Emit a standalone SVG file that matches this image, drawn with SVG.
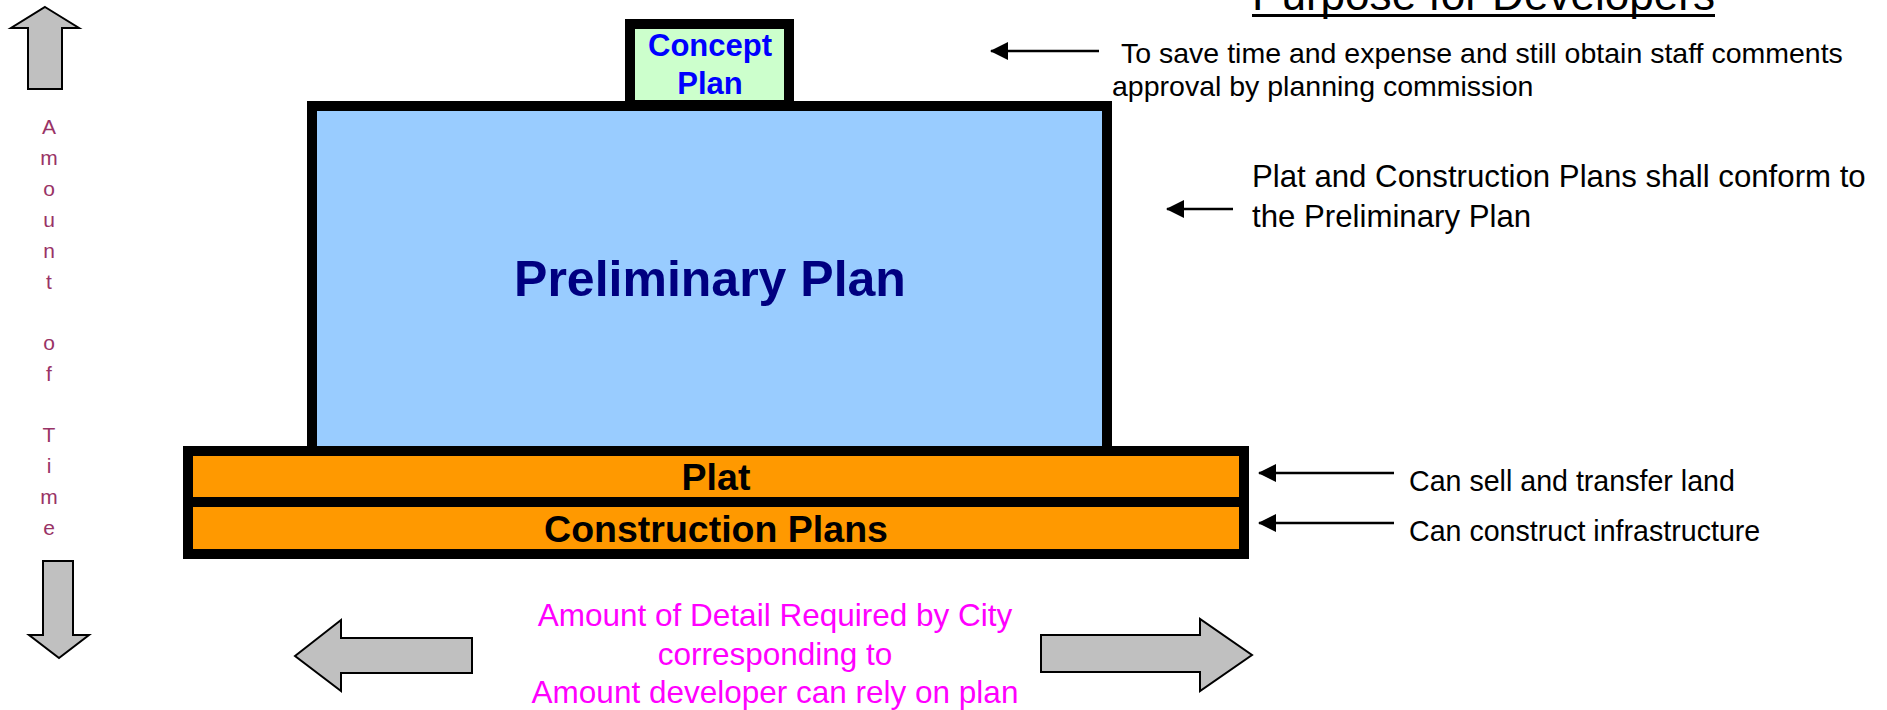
<svg xmlns="http://www.w3.org/2000/svg" width="1887" height="710" viewBox="0 0 1887 710">
<style>
.box{stroke:#000;stroke-width:10}
.blk{fill:#C0C0C0;stroke:#000;stroke-width:2;stroke-linejoin:miter}
.con{stroke:#000;stroke-width:2.5;fill:none}
.t{font-family:"Liberation Sans",Arial,sans-serif}
.b{font-weight:bold}
.note{font-family:"Liberation Sans",Arial,sans-serif;fill:#000}
.mag{font-family:"Liberation Sans",Arial,sans-serif;fill:#FF00FF;font-size:31.5px;text-anchor:middle}
.vert{font-family:"Liberation Sans",Arial,sans-serif;fill:#993366;font-size:21px;text-anchor:middle}
</style>
<defs>
<marker id="ah" viewBox="0 0 18 18" refX="17" refY="9" markerWidth="18" markerHeight="18" markerUnits="userSpaceOnUse" orient="auto">
<path d="M0,0 L18,9 L0,18 Z" fill="#000"/>
</marker>
</defs>
<rect width="1887" height="710" fill="#fff"/>

<g id="title">
<text class="t" x="1252" y="10" font-size="44" fill="#000" textLength="463" lengthAdjust="spacingAndGlyphs">Purpose for Developers</text>
<rect x="1252" y="14" width="463" height="3" fill="#000"/>
</g>

<g id="time-axis">
<path class="blk" d="M45,7 L79,28 L62,28 L62,89 L28,89 L28,28 L11,28 Z"/>
<path class="blk" d="M43,561 L73,561 L73,635 L89,635 L59,658 L29,635 L43,635 Z"/>
<text class="vert" x="49"><tspan x="49" y="134">A</tspan><tspan x="49" y="165">m</tspan><tspan x="49" y="196">o</tspan><tspan x="49" y="227">u</tspan><tspan x="49" y="258">n</tspan><tspan x="49" y="289">t</tspan><tspan x="49" y="350">o</tspan><tspan x="49" y="381">f</tspan><tspan x="49" y="442">T</tspan><tspan x="49" y="473">i</tspan><tspan x="49" y="504">m</tspan><tspan x="49" y="535">e</tspan></text>
</g>

<g id="preliminary-plan">
<rect class="box" x="312" y="106" width="795" height="345" fill="#99CCFF"/>
<text class="t b" x="710" y="296" font-size="50" fill="#000080" text-anchor="middle">Preliminary Plan</text>
</g>

<g id="concept-plan">
<rect class="box" x="630" y="24" width="159" height="81" fill="#CCFFCC"/>
<text class="t b" x="710" y="56" font-size="31" fill="#0000FF" text-anchor="middle">Concept</text>
<text class="t b" x="710" y="94" font-size="31" fill="#0000FF" text-anchor="middle">Plan</text>
</g>

<g id="plat">
<rect class="box" x="188" y="451" width="1056" height="51" fill="#FF9900"/>
<text class="t b" x="716" y="490" font-size="37.5" fill="#000" text-anchor="middle">Plat</text>
</g>

<g id="construction-plans">
<rect class="box" x="188" y="502" width="1056" height="52" fill="#FF9900"/>
<text class="t b" x="716" y="542" font-size="37.5" fill="#000" text-anchor="middle">Construction Plans</text>
</g>

<g id="connectors">
<path class="con" d="M1099,51 L991,51" marker-end="url(#ah)"/>
<path class="con" d="M1233,209 L1167,209" marker-end="url(#ah)"/>
<path class="con" d="M1394,473 L1259,473" marker-end="url(#ah)"/>
<path class="con" d="M1394,523 L1259,523" marker-end="url(#ah)"/>
</g>

<g id="notes">
<text class="note" font-size="28.5"><tspan x="1121" y="63">To save time and expense and still obtain staff comments</tspan><tspan x="1112" y="96">approval by planning commission</tspan></text>
<text class="note" font-size="31.2"><tspan x="1252" y="187">Plat and Construction Plans shall conform to</tspan><tspan x="1252" y="227">the Preliminary Plan</tspan></text>
<text class="note" font-size="28.6" x="1409" y="491">Can sell and transfer land</text>
<text class="note" font-size="28.6" x="1409" y="541">Can construct infrastructure</text>
</g>

<g id="detail-axis">
<path class="blk" d="M295,656 L341,620 L341,638 L472,638 L472,673 L341,673 L341,691 Z"/>
<path class="blk" d="M1041,635 L1200,635 L1200,619 L1252,655 L1200,691 L1200,672 L1041,672 Z"/>
<text class="mag"><tspan x="775" y="626">Amount of Detail Required by City</tspan><tspan x="775" y="665">corresponding to</tspan><tspan x="775" y="703">Amount developer can rely on plan</tspan></text>
</g>
</svg>
